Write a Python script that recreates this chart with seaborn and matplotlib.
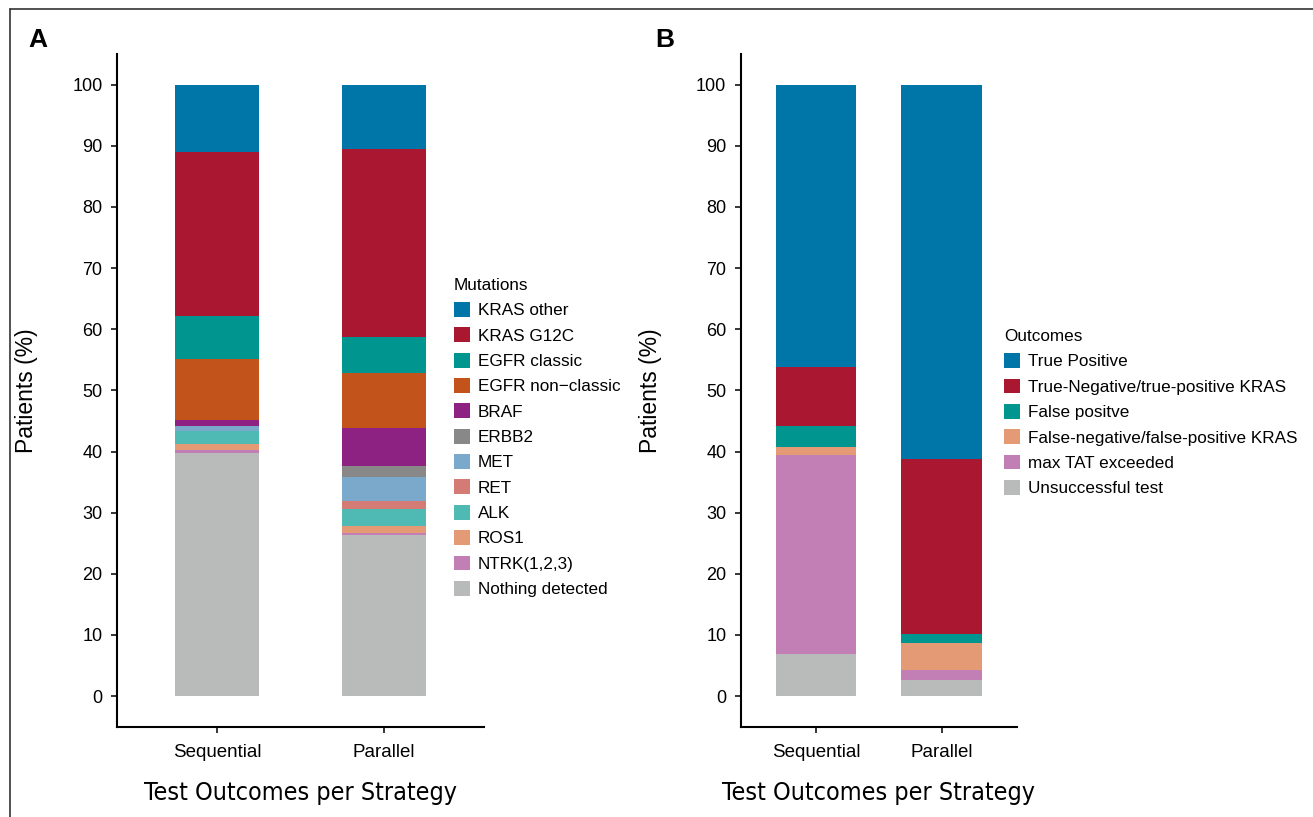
import matplotlib
matplotlib.use('Agg')
import pandas as pd
import numpy as np
import seaborn as sns
import matplotlib.pyplot as plt
from matplotlib.lines import Line2D
from matplotlib import font_manager

# Datos
estrategias = ['Sequential', 'Parallel']

mutaciones = ['KRAS other', 'KRAS G12C', 'EGFR classic', 'EGFR non\u2212classic', 'BRAF',
              'ERBB2', 'MET', 'RET', 'ALK', 'ROS1', 'NTRK(1,2,3)', 'Nothing detected']
mut_sequential = [11.0, 26.8, 7.1, 10.0, 0.9, 0.0, 0.8, 0.0, 2.1, 1.1, 0.5, 39.7]
mut_parallel = [10.6, 30.7, 5.8, 9.1, 6.1, 1.9, 3.9, 1.3, 2.8, 1.2, 0.2, 26.4]
mut_colores = ['#0076A8', '#A91730', '#00968F', '#C1531B', '#8E2283', '#888888',
               '#7BA9CC', '#D47B75', '#4FBAB3', '#E49A74', '#C17FB5', '#B9BBBA']

resultados = ['True Positive', 'True-Negative/true-positive KRAS', 'False positve',
              'False-negative/false-positive KRAS', 'max TAT exceeded', 'Unsuccessful test']
res_sequential = [46.2, 9.7, 3.3, 1.4, 32.5, 6.9]
res_parallel = [61.3, 28.6, 1.4, 4.5, 1.6, 2.6]
res_colores = ['#0076A8', '#A91730', '#00968F', '#E49A74', '#C17FB5', '#B9BBBA']

df_mut = pd.DataFrame({
    'strategy': ['Sequential'] * len(mutaciones) + ['Parallel'] * len(mutaciones),
    'Mutations': mutaciones * 2,
    'pct': mut_sequential + mut_parallel,
})
df_res = pd.DataFrame({
    'strategy': ['Sequential'] * len(resultados) + ['Parallel'] * len(resultados),
    'Outcomes': resultados * 2,
    'pct': res_sequential + res_parallel,
})

sns.set_style('ticks')
plt.rcParams['font.family'] = ['Liberation Sans', 'DejaVu Sans']
for k in ['text.color', 'axes.labelcolor', 'xtick.color', 'ytick.color']:
    plt.rcParams[k] = 'black'

# fuente estrecha para el titulo del eje x, si existe
nombres = {f.name for f in font_manager.fontManager.ttflist}
if 'Liberation Sans Narrow' in nombres:
    fuente_x = dict(family='Liberation Sans Narrow', fontsize=20)
else:
    fuente_x = dict(family='DejaVu Sans', fontstretch='condensed', fontsize=18)

fig = plt.figure(figsize=(13.13, 8.17), dpi=100)
ax_a = fig.add_axes([0.0889, 0.1105, 0.2797, 0.8234])
ax_b = fig.add_axes([0.5641, 0.1105, 0.2104, 0.8234])


def apilar(ax, df, hue, orden, colores, ancho):
    sns.histplot(data=df, x='strategy', hue=hue, weights='pct', multiple='stack',
                 discrete=True, shrink=ancho, hue_order=orden, palette=colores,
                 alpha=1, linewidth=0, ax=ax)
    ax.set_xlim(-0.6, 1.6)
    ax.set_ylim(-5, 105)
    ax.set_yticks(range(0, 101, 10))
    ax.set_xticks([0, 1])
    ax.set_xticklabels(estrategias)
    sns.despine(ax=ax)
    for s in ['left', 'bottom']:
        ax.spines[s].set_linewidth(1.5)
        ax.spines[s].set_color('black')
    ax.tick_params(axis='both', width=1.1, length=4.3, color='black')
    ax.tick_params(axis='y', pad=6, labelsize=13)
    ax.tick_params(axis='x', pad=8, labelsize=13.5)
    ax.set_ylabel('Patients (%)', fontsize=16.5)
    ax.set_xlabel('Test Outcomes per Strategy', **fuente_x)


apilar(ax_a, df_mut, 'Mutations', mutaciones, mut_colores, 0.5)
apilar(ax_b, df_res, 'Outcomes', resultados, res_colores, 0.64)

ax_a.yaxis.set_label_coords(-0.214, 0.5)
ax_b.yaxis.set_label_coords(-0.285, 0.5)
ax_a.xaxis.set_label_coords(0.5, -0.08)
ax_b.xaxis.set_label_coords(0.5, -0.08)

ley = dict(frameon=False, borderpad=0, borderaxespad=0, alignment='left', fontsize=12.3,
           title_fontsize=12.3, handlelength=0.96, handleheight=0.96, handletextpad=0.46,
           labelspacing=0.53)
sns.move_legend(ax_a, 'upper left', bbox_to_anchor=(0.918, 0.667), title='Mutations', **ley)
sns.move_legend(ax_b, 'upper left', bbox_to_anchor=(0.953, 0.591), title='Outcomes', **ley)

# Letras de panel
fig.text(28 / 1313, 1 - 47 / 817, 'A', fontsize=19, fontweight='bold', va='baseline')
fig.text(655 / 1313, 1 - 47 / 817, 'B', fontsize=19, fontweight='bold', va='baseline')

# Marco de la figura
fig.add_artist(Line2D([10 / 1313, 1], [1 - 9 / 817, 1 - 9 / 817], color='#333333', lw=1.2))
fig.add_artist(Line2D([10 / 1313, 10 / 1313], [0, 1 - 9 / 817], color='#333333', lw=1.2))

plt.savefig('out.png', dpi=100)
